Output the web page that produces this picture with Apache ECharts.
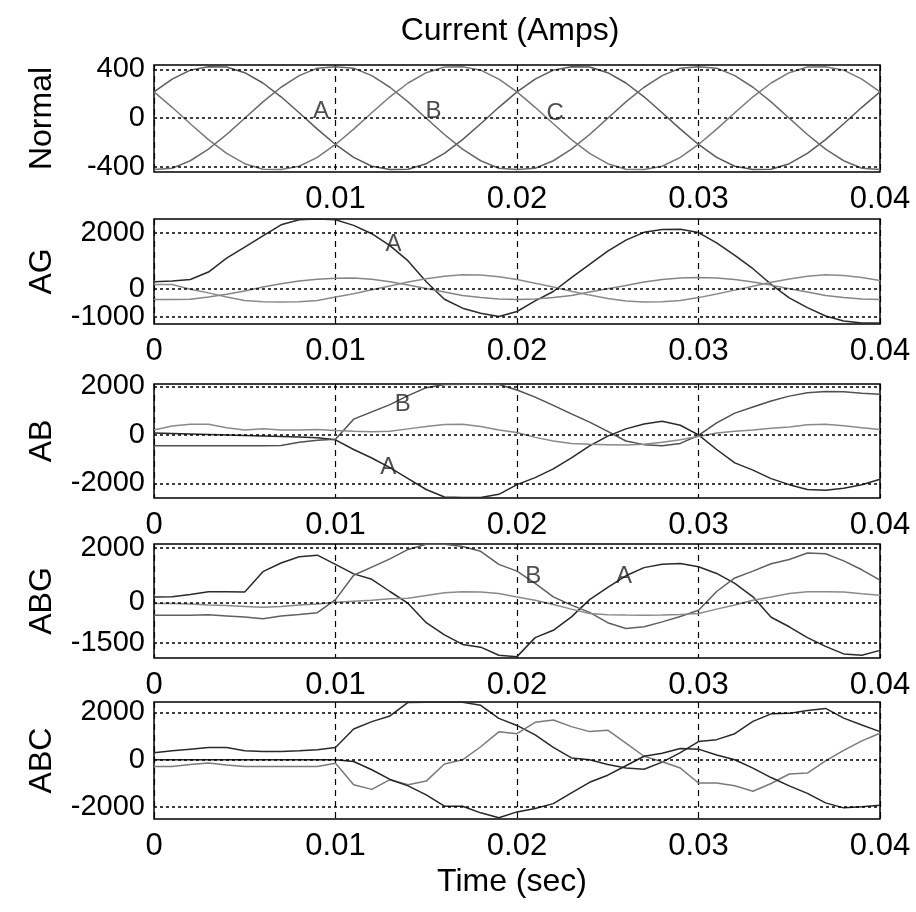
<!DOCTYPE html>
<html><head><meta charset="utf-8">
<script src="https://cdn.jsdelivr.net/npm/echarts@6/dist/echarts.min.js"></script>
<style>html,body{margin:0;padding:0;background:#fff}#c{width:916px;height:912px}</style>
</head><body><div id="c"></div>
<script>
// ---- time base (seconds) ----
const time = [0,0.001,0.002,0.003,0.004,0.005,0.006,0.007,0.008,0.009,0.010,
  0.011,0.012,0.013,0.014,0.015,0.016,0.017,0.018,0.019,0.020,
  0.021,0.022,0.023,0.024,0.025,0.026,0.027,0.028,0.029,0.030,
  0.031,0.032,0.033,0.034,0.035,0.036,0.037,0.038,0.039,0.040];
const xTicks = [0, 0.01, 0.02, 0.03, 0.04];

// ---- Normal ----
const normA = [215,320,393,420,418,372,288,175,45,-89,-215,
  -320,-393,-420,-418,-372,-288,-175,-45,89,215,
  320,393,420,418,372,288,175,45,-89,-215,
  -320,-393,-420,-418,-372,-288,-175,-45,89,215];
const normB = [-420,-409,-348,-253,-133,0,133,253,348,409,420,
  409,348,253,133,0,-133,-253,-348,-409,-420,
  -409,-348,-253,-133,0,133,253,348,409,420,
  409,348,253,133,0,-133,-253,-348,-409,-420];
const normC = [215,89,-45,-175,-288,-372,-418,-420,-393,-320,-215,
  -89,45,175,288,372,418,420,393,320,215,
  89,-45,-175,-288,-372,-418,-420,-393,-320,-215,
  -89,45,175,288,372,418,420,393,320,215];

// ---- AG ----
const agA = [250,280,330,600,1100,1500,1900,2300,2480,2510,2480,
  2280,1980,1550,1000,250,-380,-700,-880,-1000,-820,
  -440,-100,400,880,1350,1750,2030,2130,2140,2020,
  1650,1200,720,160,-330,-680,-980,-1160,-1230,-1230];
const agB = [-385,-385,-380,-300,-200,-80,60,180,280,340,380,
  390,340,250,130,10,-120,-240,-320,-370,-390,
  -370,-320,-240,-120,0,120,240,330,390,400,
  390,330,240,130,0,-120,-240,-320,-370,-390];
const agC = [155,150,-20,-150,-300,-420,-470,-480,-470,-420,-300,
  -180,-40,100,240,360,450,500,490,430,330,
  200,60,-90,-230,-350,-440,-480,-470,-420,-320,
  -190,-50,90,230,350,450,500,480,400,300];

// ---- AB ----
const abA = [80,60,40,20,0,-20,-40,-60,-80,-120,-200,
  -600,-950,-1350,-1800,-2250,-2560,-2580,-2580,-2450,-2050,
  -1760,-1400,-950,-450,-50,250,450,560,400,0,
  -600,-1150,-1450,-1800,-2050,-2250,-2280,-2200,-2050,-1830];
const abB = [-450,-450,-450,-450,-450,-450,-450,-440,-300,-220,-180,
  650,950,1250,1620,1950,2080,2090,2090,2080,1850,
  1560,1220,870,530,150,-250,-400,-450,-350,-20,
  500,900,1150,1400,1600,1740,1790,1780,1720,1680];
const abC = [200,370,440,440,300,200,250,200,200,220,180,
  150,130,150,250,350,430,440,350,200,100,
  -100,-250,-350,-380,-400,-420,-380,-300,-200,-60,
  80,150,200,280,330,420,440,380,300,220];

// ---- ABG ----
const abgA = [200,210,290,390,390,380,1130,1450,1680,1740,1400,
  1050,850,400,-40,-750,-1200,-1550,-1650,-1950,-2000,
  -1300,-1030,-535,100,550,980,1280,1400,1435,1310,
  1066,696,204,-550,-900,-1300,-1620,-1900,-1950,-1770];
const abgB = [-474,-474,-474,-460,-500,-540,-600,-500,-450,-380,100,
  1000,1300,1600,1950,2140,2140,2060,1880,1400,1150,
  700,204,-100,-370,-750,-965,-900,-720,-520,-290,
  400,900,1150,1420,1580,1820,1790,1530,1200,820];
const abgC = [-40,-40,-60,-100,-120,-150,-180,-150,-100,-60,0,
  40,80,130,150,250,350,390,380,330,200,
  80,-80,-250,-410,-460,-470,-475,-470,-450,-410,
  -250,-100,80,200,330,390,390,380,320,265];

// ---- ABC ----
const abcA = [300,380,450,520,520,380,350,350,380,420,520,
  1300,1610,1850,2420,2430,2430,2430,2300,1750,1450,
  1050,520,80,0,-200,-350,-400,-100,300,770,
  850,1100,1620,1940,1960,2080,2170,1760,1470,1190];
const abcB = [-280,-280,-200,-140,-220,-280,-280,-280,-280,-280,-150,
  -1050,-1250,-840,-1050,-900,-180,0,550,1180,1100,
  1580,1680,1400,1190,1250,700,150,-80,-350,-980,
  -980,-1100,-1330,-1000,-600,-560,-50,400,800,1120];
const abcC = [0,0,0,0,0,0,0,0,0,0,0,
  -70,-420,-830,-1100,-1480,-1960,-1960,-2240,-2450,-2200,
  -2060,-1850,-1400,-950,-650,-250,150,280,480,450,
  200,0,-350,-750,-1100,-1420,-1820,-2030,-1980,-1920];

// ---- y tick values / limits ----
const yTicksNormal = [400, 0, -400];
const yTicksAG = [2000, 0, -1000];
const yTicksAB = [2000, 0, -2000];
const yTicksABG = [2000, 0, -1500];
const yTicksABC = [2000, 0, -2000];
const yLimNormal = [-440, 435];
const yLimAG = [-1270, 2510];
const yLimAB = [-2600, 2100];
const yLimABG = [-2050, 2150];
const yLimABC = [-2500, 2440];

// ---- annotations [x, y, text] ----
const annNormal = [[0.0092, 55, 'A'], [0.0154, 55, 'B'], [0.0221, 40, 'C']];
const annAG = [[0.0132, 1600, 'A']];
const annAB = [[0.0137, 1265, 'B'], [0.0129, -1350, 'A']];
const annABG = [[0.0209, 943, 'B'], [0.0259, 943, 'A']];
const annABC = [];

const FONT = "'Liberation Sans', Arial, sans-serif";

const panels = [
  {name:'Normal', data:[normA,normB,normC], colors:['#5a5a5a','#6a6a6a','#7a7a7a'], lim:yLimNormal, ticks:yTicksNormal, ann:annNormal, top:65, height:107, hideZero:true},
  {name:'AG', data:[agA,agB,agC], colors:['#2a2a2a','#858585','#8a8a8a'], lim:yLimAG, ticks:yTicksAG, ann:annAG, top:219, height:105, hideZero:false},
  {name:'AB', data:[abA,abB,abC], colors:['#2a2a2a','#505050','#8a8a8a'], lim:yLimAB, ticks:yTicksAB, ann:annAB, top:384, height:114, hideZero:false},
  {name:'ABG', data:[abgA,abgB,abgC], colors:['#2a2a2a','#606060','#8a8a8a'], lim:yLimABG, ticks:yTicksABG, ann:annABG, top:544, height:114, hideZero:false},
  {name:'ABC', data:[abcA,abcB,abcC], colors:['#2a2a2a','#7a7a7a','#262626'], lim:yLimABC, ticks:yTicksABC, ann:annABC, top:702, height:117, hideZero:false}
];

const grid = [], xAxis = [], yAxis = [], series = [], extraY = [];
const yLabelStyle = {fontFamily:FONT, fontSize:29, color:'#000', margin:9, hideOverlap:false,
  formatter: v => String(Math.round(v))};
panels.forEach((p, i) => {
  grid.push({left:154, width:726, top:p.top, height:p.height, show:true,
    borderColor:'#000', borderWidth:1.5, backgroundColor:'#fff'});
  xAxis.push({gridIndex:i, type:'value', min:xTicks[0], max:xTicks[xTicks.length-1], interval:0.01,
    axisLine:{show:false}, axisTick:{show:false},
    splitLine:{show:true, lineStyle:{color:'#000', type:[6,5], width:1.2}},
    axisLabel:{fontFamily:FONT, fontSize:31, color:'#000', margin:12, hideOverlap:false,
      formatter: v => (Math.abs(v) < 1e-9) ? (p.hideZero ? '' : '0') : v.toFixed(2)}});
  // outer tick labels (top & bottom) on the main axis, middle label on a twin axis
  yAxis.push({gridIndex:i, type:'value', min:p.lim[0], max:p.lim[1], position:'left',
    axisLine:{show:false}, axisTick:{show:false}, splitLine:{show:false},
    axisLabel:Object.assign({customValues:[p.ticks[0], p.ticks[2]]}, yLabelStyle),
    name:p.name, nameLocation:'middle', nameGap:96,
    nameTextStyle:{fontFamily:FONT, fontSize:32, color:'#000'}});
  extraY.push({gridIndex:i, type:'value', min:p.lim[0], max:p.lim[1], position:'left', offset:0,
    axisLine:{show:false}, axisTick:{show:false}, splitLine:{show:false},
    axisLabel:Object.assign({customValues:[p.ticks[1]]}, yLabelStyle)});
  p.data.forEach((arr, k) => {
    const s = {type:'line', xAxisIndex:i, yAxisIndex:i, showSymbol:false, symbol:'none',
      data: time.map((t, j) => [t, arr[j]]),
      lineStyle:{color:p.colors[k], width:1.5}, itemStyle:{color:p.colors[k]},
      silent:true, z:3};
    if (k === 0) {
      s.markLine = {silent:true, symbol:['none','none'], label:{show:false},
        lineStyle:{color:'#000', type:[3,3], width:1.5},
        data: p.ticks.map(v => ({yAxis:v}))};
    }
    series.push(s);
  });
  if (p.ann.length) {
    series.push({type:'scatter', xAxisIndex:i, yAxisIndex:i, symbolSize:1,
      itemStyle:{color:'rgba(0,0,0,0)'}, data:p.ann, z:5, silent:true,
      label:{show:true, position:'inside', formatter: q => q.value[2],
        fontFamily:FONT, fontSize:24, color:'#222'}});
  }
});

const chart = echarts.init(document.getElementById('c'), null, {renderer:'canvas'});
chart.setOption({
  animation:false,
  backgroundColor:'#fff',
  grid, xAxis, yAxis: yAxis.concat(extraY), series,
  graphic:[
    {type:'text', x:510, y:31, style:{text:'Current (Amps)', textAlign:'center', textVerticalAlign:'middle',
      font:"32px 'Liberation Sans', Arial, sans-serif", fill:'#000'}},
    {type:'text', x:512, y:882, style:{text:'Time (sec)', textAlign:'center', textVerticalAlign:'middle',
      font:"32px 'Liberation Sans', Arial, sans-serif", fill:'#000'}}
  ]
});
</script></body></html>
